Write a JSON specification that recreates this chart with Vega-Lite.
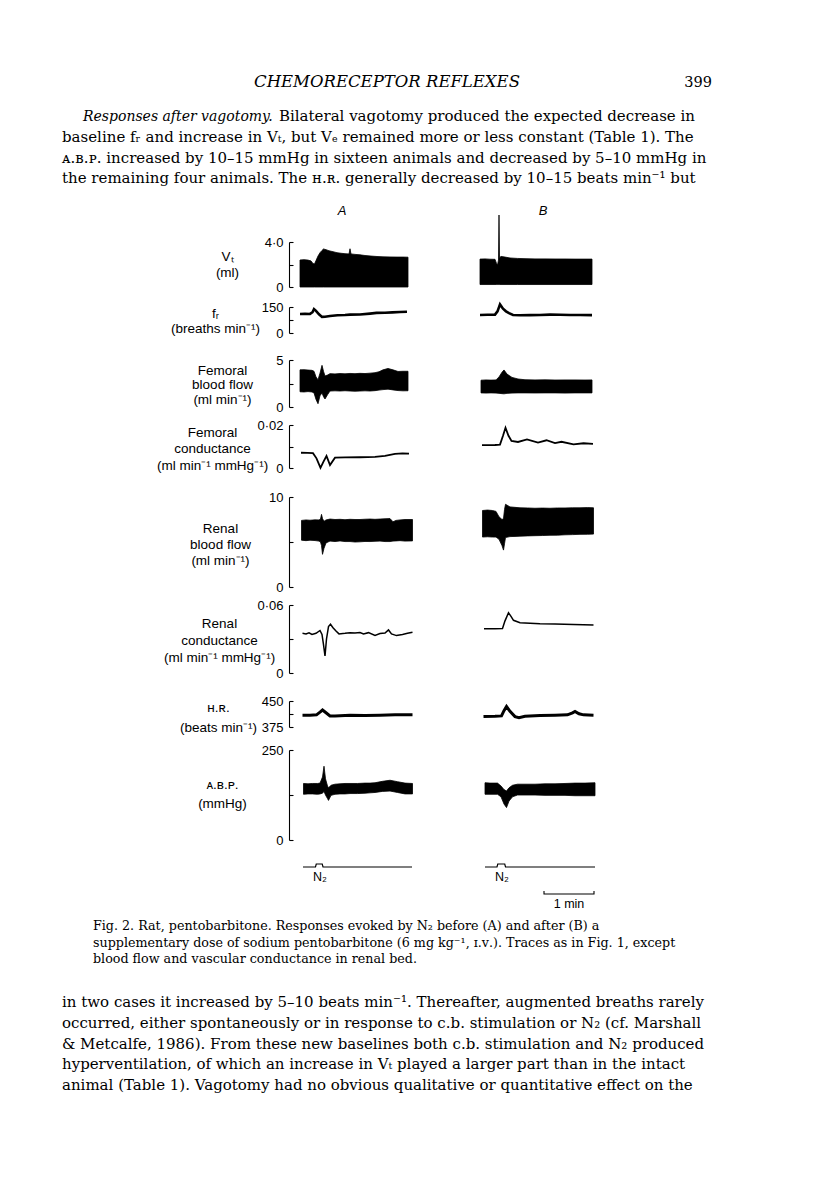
{
  "$schema": "https://vega.github.io/schema/vega-lite/v6.json",
  "background": "white",
  "padding": {"left": 62, "top": 74, "right": 0, "bottom": 0},
  "bounds": "flush",
  "spacing": 0,
  "config": {
    "view": {"stroke": null},
    "font": "Liberation Sans",
    "axis": {
      "offset": -227,
      "grid": false,
      "domainColor": "black",
      "domainWidth": 1.1,
      "tickColor": "black",
      "tickWidth": 1.1,
      "tickSize": -4,
      "labelPadding": 10,
      "labelFont": "Liberation Sans",
      "labelFontSize": 13,
      "labelColor": "black",
      "labelFlush": false,
      "labelOverlap": false,
      "labelBaseline": "middle",
      "titleFont": "Liberation Sans",
      "titleFontSize": 13.5,
      "titleFontWeight": "normal",
      "titleColor": "black",
      "titleAngle": 0,
      "titleAlign": "center",
      "titleBaseline": "middle"
    }
  },
  "datasets": {
    "head": [
      {"role": "head", "text": "CHEMORECEPTOR REFLEXES"},
      {"role": "page", "text": "399"}
    ],
    "para1": [
      {"line": 1, "seg": "lead", "text": "Responses after vagotomy."},
      {"line": 1, "seg": "rest", "text": "Bilateral vagotomy produced the expected decrease in"},
      {"line": 2, "seg": "body", "text": "baseline fᵣ and increase in Vₜ, but Vₑ remained more or less constant (Table 1). The"},
      {"line": 3, "seg": "body", "text": "ᴀ.ʙ.ᴘ. increased by 10–15 mmHg in sixteen animals and decreased by 5–10 mmHg in"},
      {"line": 4, "seg": "body", "text": "the remaining four animals. The ʜ.ʀ. generally decreased by 10–15 beats min⁻¹ but"}
    ],
    "caption": [
      {"line": 1, "text": "Fig. 2. Rat, pentobarbitone. Responses evoked by N₂ before (A) and after (B) a"},
      {"line": 2, "text": "supplementary dose of sodium pentobarbitone (6 mg kg⁻¹, ɪ.ᴠ.). Traces as in Fig. 1, except"},
      {"line": 3, "text": "blood flow and vascular conductance in renal bed."}
    ],
    "para2": [
      {"line": 1, "text": "in two cases it increased by 5–10 beats min⁻¹. Thereafter, augmented breaths rarely"},
      {"line": 2, "text": "occurred, either spontaneously or in response to c.b. stimulation or N₂ (cf. Marshall"},
      {"line": 3, "text": "& Metcalfe, 1986). From these new baselines both c.b. stimulation and N₂ produced"},
      {"line": 4, "text": "hyperventilation, of which an increase in Vₜ played a larger part than in the intact"},
      {"line": 5, "text": "animal (Table 1). Vagotomy had no obvious qualitative or quantitative effect on the"}
    ],
    "panels": [
      {"panel": "A", "t": 0.84},
      {"panel": "B", "t": 4.86}
    ],
    "vt": [
      {"panel": "A", "t": 0.00, "hi": 2.40, "lo": 0},
      {"panel": "A", "t": 0.08, "hi": 2.43, "lo": 0},
      {"panel": "A", "t": 0.16, "hi": 2.39, "lo": 0},
      {"panel": "A", "t": 0.22, "hi": 2.32, "lo": 0},
      {"panel": "A", "t": 0.26, "hi": 2.08, "lo": 0},
      {"panel": "A", "t": 0.29, "hi": 2.05, "lo": 0},
      {"panel": "A", "t": 0.32, "hi": 2.35, "lo": 0},
      {"panel": "A", "t": 0.36, "hi": 2.75, "lo": 0},
      {"panel": "A", "t": 0.40, "hi": 3.05, "lo": 0},
      {"panel": "A", "t": 0.44, "hi": 3.25, "lo": 0},
      {"panel": "A", "t": 0.47, "hi": 3.38, "lo": 0},
      {"panel": "A", "t": 0.52, "hi": 3.32, "lo": 0},
      {"panel": "A", "t": 0.58, "hi": 3.22, "lo": 0},
      {"panel": "A", "t": 0.66, "hi": 3.14, "lo": 0},
      {"panel": "A", "t": 0.74, "hi": 3.05, "lo": 0},
      {"panel": "A", "t": 0.82, "hi": 3.00, "lo": 0},
      {"panel": "A", "t": 0.90, "hi": 2.96, "lo": 0},
      {"panel": "A", "t": 0.98, "hi": 2.94, "lo": 0},
      {"panel": "A", "t": 1.00, "hi": 3.40, "lo": 0},
      {"panel": "A", "t": 1.02, "hi": 2.94, "lo": 0},
      {"panel": "A", "t": 1.10, "hi": 2.90, "lo": 0},
      {"panel": "A", "t": 1.20, "hi": 2.86, "lo": 0},
      {"panel": "A", "t": 1.30, "hi": 2.80, "lo": 0},
      {"panel": "A", "t": 1.42, "hi": 2.75, "lo": 0},
      {"panel": "A", "t": 1.54, "hi": 2.71, "lo": 0},
      {"panel": "A", "t": 1.66, "hi": 2.68, "lo": 0},
      {"panel": "A", "t": 1.80, "hi": 2.67, "lo": 0},
      {"panel": "A", "t": 1.94, "hi": 2.66, "lo": 0},
      {"panel": "A", "t": 2.06, "hi": 2.66, "lo": 0},
      {"panel": "A", "t": 2.16, "hi": 2.65, "lo": 0},
      {"panel": "B", "t": 3.60, "hi": 2.48, "lo": 0.22},
      {"panel": "B", "t": 3.70, "hi": 2.50, "lo": 0.22},
      {"panel": "B", "t": 3.80, "hi": 2.47, "lo": 0.22},
      {"panel": "B", "t": 3.90, "hi": 2.46, "lo": 0.22},
      {"panel": "B", "t": 3.93, "hi": 2.10, "lo": 0.22},
      {"panel": "B", "t": 3.95, "hi": 1.96, "lo": 0.22},
      {"panel": "B", "t": 3.97, "hi": 2.40, "lo": 0.22},
      {"panel": "B", "t": 3.98, "hi": 6.40, "lo": 0.22},
      {"panel": "B", "t": 3.99, "hi": 2.60, "lo": 0.22},
      {"panel": "B", "t": 4.02, "hi": 2.72, "lo": 0.22},
      {"panel": "B", "t": 4.10, "hi": 2.66, "lo": 0.22},
      {"panel": "B", "t": 4.20, "hi": 2.58, "lo": 0.22},
      {"panel": "B", "t": 4.35, "hi": 2.54, "lo": 0.22},
      {"panel": "B", "t": 4.50, "hi": 2.52, "lo": 0.22},
      {"panel": "B", "t": 4.70, "hi": 2.50, "lo": 0.22},
      {"panel": "B", "t": 4.90, "hi": 2.50, "lo": 0.22},
      {"panel": "B", "t": 5.10, "hi": 2.49, "lo": 0.22},
      {"panel": "B", "t": 5.30, "hi": 2.49, "lo": 0.22},
      {"panel": "B", "t": 5.50, "hi": 2.48, "lo": 0.22},
      {"panel": "B", "t": 5.70, "hi": 2.48, "lo": 0.22},
      {"panel": "B", "t": 5.84, "hi": 2.48, "lo": 0.22}
    ],
    "fr": [
      {"panel": "A", "t": 0.00, "v": 110},
      {"panel": "A", "t": 0.10, "v": 111},
      {"panel": "A", "t": 0.20, "v": 110},
      {"panel": "A", "t": 0.25, "v": 120},
      {"panel": "A", "t": 0.28, "v": 138},
      {"panel": "A", "t": 0.32, "v": 128},
      {"panel": "A", "t": 0.38, "v": 108},
      {"panel": "A", "t": 0.44, "v": 93},
      {"panel": "A", "t": 0.50, "v": 94},
      {"panel": "A", "t": 0.60, "v": 98},
      {"panel": "A", "t": 0.75, "v": 102},
      {"panel": "A", "t": 0.90, "v": 104},
      {"panel": "A", "t": 1.00, "v": 106},
      {"panel": "A", "t": 1.20, "v": 107},
      {"panel": "A", "t": 1.40, "v": 112},
      {"panel": "A", "t": 1.53, "v": 116},
      {"panel": "A", "t": 1.70, "v": 117},
      {"panel": "A", "t": 1.85, "v": 119},
      {"panel": "A", "t": 2.00, "v": 121},
      {"panel": "A", "t": 2.14, "v": 123},
      {"panel": "B", "t": 3.60, "v": 104},
      {"panel": "B", "t": 3.75, "v": 105},
      {"panel": "B", "t": 3.90, "v": 106},
      {"panel": "B", "t": 3.95, "v": 125},
      {"panel": "B", "t": 4.00, "v": 165},
      {"panel": "B", "t": 4.06, "v": 140},
      {"panel": "B", "t": 4.12, "v": 125},
      {"panel": "B", "t": 4.18, "v": 115},
      {"panel": "B", "t": 4.26, "v": 104},
      {"panel": "B", "t": 4.40, "v": 102},
      {"panel": "B", "t": 4.60, "v": 103},
      {"panel": "B", "t": 4.80, "v": 104},
      {"panel": "B", "t": 5.00, "v": 106},
      {"panel": "B", "t": 5.20, "v": 105},
      {"panel": "B", "t": 5.40, "v": 104},
      {"panel": "B", "t": 5.60, "v": 104},
      {"panel": "B", "t": 5.84, "v": 103}
    ],
    "fembf": [
      {"panel": "A", "t": 0.00, "hi": 3.95, "lo": 1.62},
      {"panel": "A", "t": 0.08, "hi": 3.97, "lo": 1.60},
      {"panel": "A", "t": 0.16, "hi": 3.93, "lo": 1.64},
      {"panel": "A", "t": 0.24, "hi": 3.90, "lo": 1.60},
      {"panel": "A", "t": 0.28, "hi": 3.80, "lo": 1.50},
      {"panel": "A", "t": 0.32, "hi": 3.20, "lo": 0.80},
      {"panel": "A", "t": 0.36, "hi": 2.90, "lo": 0.35},
      {"panel": "A", "t": 0.40, "hi": 3.60, "lo": 1.20},
      {"panel": "A", "t": 0.44, "hi": 4.43, "lo": 1.50},
      {"panel": "A", "t": 0.47, "hi": 3.80, "lo": 1.10},
      {"panel": "A", "t": 0.50, "hi": 3.30, "lo": 0.85},
      {"panel": "A", "t": 0.55, "hi": 3.40, "lo": 1.30},
      {"panel": "A", "t": 0.60, "hi": 3.55, "lo": 1.70},
      {"panel": "A", "t": 0.70, "hi": 3.52, "lo": 1.72},
      {"panel": "A", "t": 0.80, "hi": 3.56, "lo": 1.70},
      {"panel": "A", "t": 0.90, "hi": 3.53, "lo": 1.73},
      {"panel": "A", "t": 1.00, "hi": 3.57, "lo": 1.70},
      {"panel": "A", "t": 1.10, "hi": 3.55, "lo": 1.68},
      {"panel": "A", "t": 1.20, "hi": 3.58, "lo": 1.70},
      {"panel": "A", "t": 1.30, "hi": 3.56, "lo": 1.72},
      {"panel": "A", "t": 1.40, "hi": 3.60, "lo": 1.70},
      {"panel": "A", "t": 1.50, "hi": 3.65, "lo": 1.74},
      {"panel": "A", "t": 1.58, "hi": 3.75, "lo": 1.80},
      {"panel": "A", "t": 1.66, "hi": 3.95, "lo": 1.85},
      {"panel": "A", "t": 1.76, "hi": 4.10, "lo": 1.90},
      {"panel": "A", "t": 1.86, "hi": 3.95, "lo": 1.82},
      {"panel": "A", "t": 1.96, "hi": 3.78, "lo": 1.75},
      {"panel": "A", "t": 2.06, "hi": 3.80, "lo": 1.72},
      {"panel": "A", "t": 2.16, "hi": 3.80, "lo": 1.73},
      {"panel": "B", "t": 3.62, "hi": 2.85, "lo": 1.50},
      {"panel": "B", "t": 3.72, "hi": 2.88, "lo": 1.48},
      {"panel": "B", "t": 3.82, "hi": 2.86, "lo": 1.50},
      {"panel": "B", "t": 3.92, "hi": 2.88, "lo": 1.48},
      {"panel": "B", "t": 3.98, "hi": 3.20, "lo": 1.45},
      {"panel": "B", "t": 4.04, "hi": 3.70, "lo": 1.42},
      {"panel": "B", "t": 4.08, "hi": 3.94, "lo": 1.40},
      {"panel": "B", "t": 4.14, "hi": 3.50, "lo": 1.45},
      {"panel": "B", "t": 4.24, "hi": 3.15, "lo": 1.48},
      {"panel": "B", "t": 4.36, "hi": 2.98, "lo": 1.50},
      {"panel": "B", "t": 4.50, "hi": 2.90, "lo": 1.50},
      {"panel": "B", "t": 4.70, "hi": 2.88, "lo": 1.49},
      {"panel": "B", "t": 4.90, "hi": 2.89, "lo": 1.50},
      {"panel": "B", "t": 5.10, "hi": 2.87, "lo": 1.50},
      {"panel": "B", "t": 5.30, "hi": 2.88, "lo": 1.48},
      {"panel": "B", "t": 5.50, "hi": 2.88, "lo": 1.50},
      {"panel": "B", "t": 5.70, "hi": 2.87, "lo": 1.50},
      {"panel": "B", "t": 5.84, "hi": 2.88, "lo": 1.50}
    ],
    "femcond": [
      {"panel": "A", "t": 0.02, "v": 0.0071},
      {"panel": "A", "t": 0.15, "v": 0.0070},
      {"panel": "A", "t": 0.26, "v": 0.0069},
      {"panel": "A", "t": 0.33, "v": 0.0045},
      {"panel": "A", "t": 0.41, "v": 0.0001},
      {"panel": "A", "t": 0.47, "v": 0.0030},
      {"panel": "A", "t": 0.53, "v": 0.0056},
      {"panel": "A", "t": 0.60, "v": 0.0014},
      {"panel": "A", "t": 0.70, "v": 0.0048},
      {"panel": "A", "t": 0.90, "v": 0.0049},
      {"panel": "A", "t": 1.20, "v": 0.0050},
      {"panel": "A", "t": 1.50, "v": 0.0052},
      {"panel": "A", "t": 1.70, "v": 0.0056},
      {"panel": "A", "t": 1.90, "v": 0.0066},
      {"panel": "A", "t": 2.05, "v": 0.0068},
      {"panel": "A", "t": 2.18, "v": 0.0067},
      {"panel": "B", "t": 3.64, "v": 0.0106},
      {"panel": "B", "t": 3.90, "v": 0.0107},
      {"panel": "B", "t": 4.00, "v": 0.0109},
      {"panel": "B", "t": 4.06, "v": 0.0150},
      {"panel": "B", "t": 4.11, "v": 0.0187},
      {"panel": "B", "t": 4.17, "v": 0.0150},
      {"panel": "B", "t": 4.23, "v": 0.0126},
      {"panel": "B", "t": 4.36, "v": 0.0121},
      {"panel": "B", "t": 4.54, "v": 0.0133},
      {"panel": "B", "t": 4.76, "v": 0.0118},
      {"panel": "B", "t": 4.93, "v": 0.0129},
      {"panel": "B", "t": 5.10, "v": 0.0116},
      {"panel": "B", "t": 5.23, "v": 0.0122},
      {"panel": "B", "t": 5.47, "v": 0.0110},
      {"panel": "B", "t": 5.67, "v": 0.0115},
      {"panel": "B", "t": 5.86, "v": 0.0112}
    ],
    "renbf": [
      {"panel": "A", "t": 0.03, "hi": 7.40, "lo": 5.20},
      {"panel": "A", "t": 0.12, "hi": 7.45, "lo": 5.15},
      {"panel": "A", "t": 0.20, "hi": 7.42, "lo": 5.20},
      {"panel": "A", "t": 0.30, "hi": 7.46, "lo": 5.16},
      {"panel": "A", "t": 0.38, "hi": 7.45, "lo": 5.10},
      {"panel": "A", "t": 0.41, "hi": 7.55, "lo": 5.00},
      {"panel": "A", "t": 0.43, "hi": 8.07, "lo": 4.60},
      {"panel": "A", "t": 0.45, "hi": 7.60, "lo": 3.63},
      {"panel": "A", "t": 0.48, "hi": 7.30, "lo": 4.30},
      {"panel": "A", "t": 0.52, "hi": 7.45, "lo": 4.90},
      {"panel": "A", "t": 0.60, "hi": 7.55, "lo": 5.10},
      {"panel": "A", "t": 0.70, "hi": 7.50, "lo": 5.05},
      {"panel": "A", "t": 0.80, "hi": 7.52, "lo": 5.12},
      {"panel": "A", "t": 0.90, "hi": 7.48, "lo": 5.05},
      {"panel": "A", "t": 1.00, "hi": 7.52, "lo": 5.05},
      {"panel": "A", "t": 1.10, "hi": 7.50, "lo": 5.00},
      {"panel": "A", "t": 1.20, "hi": 7.50, "lo": 5.02},
      {"panel": "A", "t": 1.30, "hi": 7.53, "lo": 5.06},
      {"panel": "A", "t": 1.40, "hi": 7.55, "lo": 5.05},
      {"panel": "A", "t": 1.50, "hi": 7.52, "lo": 5.08},
      {"panel": "A", "t": 1.60, "hi": 7.55, "lo": 5.10},
      {"panel": "A", "t": 1.70, "hi": 7.58, "lo": 5.05},
      {"panel": "A", "t": 1.80, "hi": 7.60, "lo": 5.05},
      {"panel": "A", "t": 1.86, "hi": 7.25, "lo": 5.10},
      {"panel": "A", "t": 1.92, "hi": 7.40, "lo": 5.12},
      {"panel": "A", "t": 2.00, "hi": 7.45, "lo": 5.15},
      {"panel": "A", "t": 2.10, "hi": 7.50, "lo": 5.10},
      {"panel": "A", "t": 2.25, "hi": 7.50, "lo": 5.12},
      {"panel": "B", "t": 3.65, "hi": 8.50, "lo": 5.55},
      {"panel": "B", "t": 3.75, "hi": 8.55, "lo": 5.58},
      {"panel": "B", "t": 3.85, "hi": 8.50, "lo": 5.55},
      {"panel": "B", "t": 3.92, "hi": 8.40, "lo": 5.55},
      {"panel": "B", "t": 3.98, "hi": 7.80, "lo": 5.30},
      {"panel": "B", "t": 4.04, "hi": 7.50, "lo": 4.60},
      {"panel": "B", "t": 4.07, "hi": 7.60, "lo": 4.10},
      {"panel": "B", "t": 4.09, "hi": 8.60, "lo": 4.80},
      {"panel": "B", "t": 4.11, "hi": 9.19, "lo": 5.50},
      {"panel": "B", "t": 4.20, "hi": 8.90, "lo": 5.60},
      {"panel": "B", "t": 4.30, "hi": 8.85, "lo": 5.62},
      {"panel": "B", "t": 4.40, "hi": 8.80, "lo": 5.65},
      {"panel": "B", "t": 4.55, "hi": 8.78, "lo": 5.68},
      {"panel": "B", "t": 4.70, "hi": 8.75, "lo": 5.70},
      {"panel": "B", "t": 4.85, "hi": 8.77, "lo": 5.72},
      {"panel": "B", "t": 5.00, "hi": 8.75, "lo": 5.75},
      {"panel": "B", "t": 5.15, "hi": 8.78, "lo": 5.76},
      {"panel": "B", "t": 5.30, "hi": 8.78, "lo": 5.80},
      {"panel": "B", "t": 5.45, "hi": 8.80, "lo": 5.82},
      {"panel": "B", "t": 5.60, "hi": 8.80, "lo": 5.85},
      {"panel": "B", "t": 5.75, "hi": 8.82, "lo": 5.86},
      {"panel": "B", "t": 5.87, "hi": 8.80, "lo": 5.88}
    ],
    "rencond": [
      {"panel": "A", "t": 0.05, "v": 0.0350},
      {"panel": "A", "t": 0.12, "v": 0.0345},
      {"panel": "A", "t": 0.18, "v": 0.0355},
      {"panel": "A", "t": 0.24, "v": 0.0340},
      {"panel": "A", "t": 0.32, "v": 0.0350},
      {"panel": "A", "t": 0.40, "v": 0.0375},
      {"panel": "A", "t": 0.44, "v": 0.0340},
      {"panel": "A", "t": 0.47, "v": 0.0250},
      {"panel": "A", "t": 0.50, "v": 0.0150},
      {"panel": "A", "t": 0.53, "v": 0.0300},
      {"panel": "A", "t": 0.57, "v": 0.0410},
      {"panel": "A", "t": 0.61, "v": 0.0430},
      {"panel": "A", "t": 0.66, "v": 0.0400},
      {"panel": "A", "t": 0.72, "v": 0.0370},
      {"panel": "A", "t": 0.78, "v": 0.0345},
      {"panel": "A", "t": 0.90, "v": 0.0350},
      {"panel": "A", "t": 1.00, "v": 0.0356},
      {"panel": "A", "t": 1.10, "v": 0.0352},
      {"panel": "A", "t": 1.20, "v": 0.0357},
      {"panel": "A", "t": 1.27, "v": 0.0345},
      {"panel": "A", "t": 1.37, "v": 0.0356},
      {"panel": "A", "t": 1.50, "v": 0.0332},
      {"panel": "A", "t": 1.60, "v": 0.0348},
      {"panel": "A", "t": 1.70, "v": 0.0352},
      {"panel": "A", "t": 1.77, "v": 0.0380},
      {"panel": "A", "t": 1.83, "v": 0.0345},
      {"panel": "A", "t": 1.93, "v": 0.0330},
      {"panel": "A", "t": 2.05, "v": 0.0340},
      {"panel": "A", "t": 2.15, "v": 0.0350},
      {"panel": "A", "t": 2.25, "v": 0.0360},
      {"panel": "B", "t": 3.68, "v": 0.0391},
      {"panel": "B", "t": 3.90, "v": 0.0390},
      {"panel": "B", "t": 4.05, "v": 0.0392},
      {"panel": "B", "t": 4.10, "v": 0.0460},
      {"panel": "B", "t": 4.17, "v": 0.0532},
      {"panel": "B", "t": 4.22, "v": 0.0500},
      {"panel": "B", "t": 4.27, "v": 0.0465},
      {"panel": "B", "t": 4.40, "v": 0.0444},
      {"panel": "B", "t": 4.60, "v": 0.0440},
      {"panel": "B", "t": 4.80, "v": 0.0435},
      {"panel": "B", "t": 5.10, "v": 0.0432},
      {"panel": "B", "t": 5.47, "v": 0.0428},
      {"panel": "B", "t": 5.87, "v": 0.0424}
    ],
    "hr": [
      {"panel": "A", "t": 0.05, "v": 409},
      {"panel": "A", "t": 0.20, "v": 409},
      {"panel": "A", "t": 0.33, "v": 410},
      {"panel": "A", "t": 0.40, "v": 418},
      {"panel": "A", "t": 0.45, "v": 424},
      {"panel": "A", "t": 0.52, "v": 416},
      {"panel": "A", "t": 0.60, "v": 407},
      {"panel": "A", "t": 0.70, "v": 407},
      {"panel": "A", "t": 1.00, "v": 409},
      {"panel": "A", "t": 1.30, "v": 408},
      {"panel": "A", "t": 1.60, "v": 409},
      {"panel": "A", "t": 1.90, "v": 410},
      {"panel": "A", "t": 2.25, "v": 410},
      {"panel": "B", "t": 3.67, "v": 405},
      {"panel": "B", "t": 3.90, "v": 406},
      {"panel": "B", "t": 4.03, "v": 407},
      {"panel": "B", "t": 4.08, "v": 422},
      {"panel": "B", "t": 4.13, "v": 434},
      {"panel": "B", "t": 4.20, "v": 420},
      {"panel": "B", "t": 4.30, "v": 405},
      {"panel": "B", "t": 4.38, "v": 402},
      {"panel": "B", "t": 4.50, "v": 406},
      {"panel": "B", "t": 4.80, "v": 408},
      {"panel": "B", "t": 5.10, "v": 409},
      {"panel": "B", "t": 5.35, "v": 410},
      {"panel": "B", "t": 5.45, "v": 416},
      {"panel": "B", "t": 5.50, "v": 420},
      {"panel": "B", "t": 5.58, "v": 413},
      {"panel": "B", "t": 5.67, "v": 410},
      {"panel": "B", "t": 5.87, "v": 409}
    ],
    "abp": [
      {"panel": "A", "t": 0.07, "hi": 157, "lo": 127},
      {"panel": "A", "t": 0.16, "hi": 156, "lo": 128},
      {"panel": "A", "t": 0.25, "hi": 157, "lo": 128},
      {"panel": "A", "t": 0.35, "hi": 157, "lo": 127},
      {"panel": "A", "t": 0.40, "hi": 158, "lo": 128},
      {"panel": "A", "t": 0.45, "hi": 175, "lo": 130},
      {"panel": "A", "t": 0.48, "hi": 205, "lo": 135},
      {"panel": "A", "t": 0.51, "hi": 170, "lo": 125},
      {"panel": "A", "t": 0.55, "hi": 150, "lo": 115},
      {"panel": "A", "t": 0.57, "hi": 145, "lo": 110},
      {"panel": "A", "t": 0.62, "hi": 152, "lo": 124},
      {"panel": "A", "t": 0.70, "hi": 155, "lo": 127},
      {"panel": "A", "t": 0.80, "hi": 156, "lo": 128},
      {"panel": "A", "t": 0.90, "hi": 157, "lo": 128},
      {"panel": "A", "t": 1.00, "hi": 157, "lo": 129},
      {"panel": "A", "t": 1.15, "hi": 157, "lo": 129},
      {"panel": "A", "t": 1.30, "hi": 158, "lo": 130},
      {"panel": "A", "t": 1.40, "hi": 158, "lo": 131},
      {"panel": "A", "t": 1.50, "hi": 159, "lo": 132},
      {"panel": "A", "t": 1.65, "hi": 163, "lo": 135},
      {"panel": "A", "t": 1.80, "hi": 166, "lo": 136},
      {"panel": "A", "t": 1.95, "hi": 162, "lo": 132},
      {"panel": "A", "t": 2.10, "hi": 158, "lo": 128},
      {"panel": "A", "t": 2.25, "hi": 157, "lo": 128},
      {"panel": "B", "t": 3.70, "hi": 159, "lo": 127},
      {"panel": "B", "t": 3.80, "hi": 158, "lo": 127},
      {"panel": "B", "t": 3.95, "hi": 158, "lo": 127},
      {"panel": "B", "t": 4.02, "hi": 150, "lo": 120},
      {"panel": "B", "t": 4.08, "hi": 140, "lo": 100},
      {"panel": "B", "t": 4.13, "hi": 136, "lo": 90},
      {"panel": "B", "t": 4.18, "hi": 145, "lo": 108},
      {"panel": "B", "t": 4.25, "hi": 152, "lo": 120},
      {"panel": "B", "t": 4.35, "hi": 155, "lo": 125},
      {"panel": "B", "t": 4.50, "hi": 155, "lo": 125},
      {"panel": "B", "t": 4.70, "hi": 155, "lo": 125},
      {"panel": "B", "t": 4.90, "hi": 156, "lo": 124},
      {"panel": "B", "t": 5.10, "hi": 156, "lo": 124},
      {"panel": "B", "t": 5.30, "hi": 157, "lo": 124},
      {"panel": "B", "t": 5.50, "hi": 158, "lo": 123},
      {"panel": "B", "t": 5.70, "hi": 158, "lo": 123},
      {"panel": "B", "t": 5.90, "hi": 159, "lo": 123}
    ],
    "n2": [
      {"panel": "A", "t": 0.06, "v": 0},
      {"panel": "A", "t": 0.31, "v": 0},
      {"panel": "A", "t": 0.325, "v": 1},
      {"panel": "A", "t": 0.445, "v": 1},
      {"panel": "A", "t": 0.46, "v": 0},
      {"panel": "A", "t": 2.24, "v": 0},
      {"panel": "B", "t": 3.70, "v": 0},
      {"panel": "B", "t": 3.94, "v": 0},
      {"panel": "B", "t": 3.955, "v": 1},
      {"panel": "B", "t": 4.095, "v": 1},
      {"panel": "B", "t": 4.11, "v": 0},
      {"panel": "B", "t": 5.90, "v": 0}
    ],
    "n2lab": [
      {"panel": "A", "t": 0.40, "label": "N₂"},
      {"panel": "B", "t": 4.04, "label": "N₂"}
    ],
    "bar": [
      {"k": 1, "t": 4.88, "v": 1},
      {"k": 2, "t": 4.88, "v": 0},
      {"k": 3, "t": 5.88, "v": 0},
      {"k": 4, "t": 5.88, "v": 1}
    ],
    "barlab": [
      {"t": 5.38, "label": "1 min"}
    ],
    "none": []
  },
  "vconcat": [
    {
      "width": 650,
      "height": 26,
      "data": {"name": "head"},
      "layer": [
        {
          "transform": [{"filter": "datum.role == 'head'"}],
          "mark": {"type": "text", "font": "DejaVu Serif", "fontStyle": "italic", "fontSize": 16.5, "baseline": "alphabetic", "align": "center", "color": "black"},
          "encoding": {"text": {"field": "text"}}
        },
        {
          "transform": [{"filter": "datum.role == 'page'"}],
          "mark": {"type": "text", "font": "DejaVu Serif", "fontSize": 14.5, "baseline": "alphabetic", "align": "right", "x": "width", "color": "black"},
          "encoding": {"text": {"field": "text"}}
        }
      ]
    },
    {"width": 650, "height": 10.67, "data": {"name": "none"}, "mark": "point"},
    {
      "width": 650,
      "height": 82.67,
      "data": {"name": "para1"},
      "encoding": {
        "y": {"field": "line", "type": "ordinal", "axis": null, "scale": {"domain": [1, 2, 3, 4]}},
        "text": {"field": "text"}
      },
      "layer": [
        {
          "transform": [{"filter": "datum.seg == 'body'"}],
          "mark": {"type": "text", "font": "DejaVu Serif", "fontSize": 15, "align": "left", "baseline": "alphabetic", "x": 0, "color": "black"}
        },
        {
          "transform": [{"filter": "datum.seg == 'lead'"}],
          "mark": {"type": "text", "font": "DejaVu Serif", "fontStyle": "italic", "fontSize": 14, "align": "left", "baseline": "alphabetic", "x": 0, "dx": 21, "color": "black"}
        },
        {
          "transform": [{"filter": "datum.seg == 'rest'"}],
          "mark": {"type": "text", "font": "DejaVu Serif", "fontSize": 15, "align": "left", "baseline": "alphabetic", "x": 0, "dx": 217, "color": "black"}
        }
      ]
    },
    {"width": 650, "height": 11.67, "data": {"name": "none"}, "mark": "point"},
    {
      "width": 650,
      "height": 10,
      "data": {"name": "panels"},
      "mark": {"type": "text", "font": "Liberation Sans", "fontStyle": "italic", "fontSize": 13, "baseline": "middle", "color": "black"},
      "encoding": {
        "x": {"field": "t", "type": "quantitative", "scale": {"domain": [-4.76, 8.24], "nice": false, "zero": false}, "axis": null},
        "text": {"field": "panel"}
      }
    },
    {"width": 650, "height": 26, "data": {"name": "none"}, "mark": "point"},
    {
      "width": 650,
      "height": 45,
      "data": {"name": "vt"},
      "mark": {"type": "area", "color": "black", "stroke": "black", "strokeWidth": 0.8},
      "encoding": {
        "x": {"field": "t", "type": "quantitative", "scale": {"domain": [-4.76, 8.24], "nice": false, "zero": false}, "axis": null},
        "y": {"field": "hi", "type": "quantitative", "scale": {"domain": [0, 4], "nice": false, "zero": false},
          "axis": {"values": [0, 2, 4], "labelExpr": "datum.value > 3 ? '4·0' : datum.value < 1 ? '0' : ''", "title": ["Vₜ", "(ml)"], "titleX": -62, "titleY": 14, "titleLineHeight": 16}},
        "y2": {"field": "lo"},
        "detail": {"field": "panel"}
      }
    },
    {"width": 650, "height": 20, "data": {"name": "none"}, "mark": "point"},
    {
      "width": 650,
      "height": 26,
      "data": {"name": "fr"},
      "mark": {"type": "line", "color": "black", "strokeWidth": 2.6},
      "encoding": {
        "x": {"field": "t", "type": "quantitative", "scale": {"domain": [-4.76, 8.24], "nice": false, "zero": false}, "axis": null},
        "y": {"field": "v", "type": "quantitative", "scale": {"domain": [0, 150], "nice": false, "zero": false},
          "axis": {"values": [0, 75, 150], "labelExpr": "datum.value > 100 ? '150' : datum.value < 10 ? '0' : ''", "title": ["fᵣ", "(breaths min⁻¹)"], "titleX": -74, "titleY": 6, "titleLineHeight": 15}},
        "detail": {"field": "panel"}
      }
    },
    {"width": 650, "height": 27, "data": {"name": "none"}, "mark": "point"},
    {
      "width": 650,
      "height": 47,
      "data": {"name": "fembf"},
      "mark": {"type": "area", "color": "black", "stroke": "black", "strokeWidth": 0.8},
      "encoding": {
        "x": {"field": "t", "type": "quantitative", "scale": {"domain": [-4.76, 8.24], "nice": false, "zero": false}, "axis": null},
        "y": {"field": "hi", "type": "quantitative", "scale": {"domain": [0, 5], "nice": false, "zero": false},
          "axis": {"values": [0, 2.5, 5], "labelExpr": "datum.value > 4 ? '5' : datum.value < 1 ? '0' : ''", "title": ["Femoral", "blood flow", "(ml min⁻¹)"], "titleX": -67, "titleY": 10, "titleLineHeight": 14.5}},
        "y2": {"field": "lo"},
        "detail": {"field": "panel"}
      }
    },
    {"width": 650, "height": 18, "data": {"name": "none"}, "mark": "point"},
    {
      "width": 650,
      "height": 43,
      "data": {"name": "femcond"},
      "mark": {"type": "line", "color": "black", "strokeWidth": 1.8},
      "encoding": {
        "x": {"field": "t", "type": "quantitative", "scale": {"domain": [-4.76, 8.24], "nice": false, "zero": false}, "axis": null},
        "y": {"field": "v", "type": "quantitative", "scale": {"domain": [0, 0.02], "nice": false, "zero": false},
          "axis": {"values": [0, 0.01, 0.02], "labelExpr": "datum.value > 0.015 ? '0·02' : datum.value < 0.005 ? '0' : ''", "title": ["Femoral", "conductance", "(ml min⁻¹ mmHg⁻¹)"], "titleX": -77, "titleY": 7, "titleLineHeight": 16.5}},
        "detail": {"field": "panel"}
      }
    },
    {"width": 650, "height": 29, "data": {"name": "none"}, "mark": "point"},
    {
      "width": 650,
      "height": 90,
      "data": {"name": "renbf"},
      "mark": {"type": "area", "color": "black", "stroke": "black", "strokeWidth": 0.8},
      "encoding": {
        "x": {"field": "t", "type": "quantitative", "scale": {"domain": [-4.76, 8.24], "nice": false, "zero": false}, "axis": null},
        "y": {"field": "hi", "type": "quantitative", "scale": {"domain": [0, 10], "nice": false, "zero": false},
          "axis": {"values": [0, 5, 10], "labelExpr": "datum.value > 8 ? '10' : datum.value < 1 ? '0' : ''", "title": ["Renal", "blood flow", "(ml min⁻¹)"], "titleX": -69, "titleY": 31, "titleLineHeight": 16}},
        "y2": {"field": "lo"},
        "detail": {"field": "panel"}
      }
    },
    {"width": 650, "height": 18, "data": {"name": "none"}, "mark": "point"},
    {
      "width": 650,
      "height": 68,
      "data": {"name": "rencond"},
      "mark": {"type": "line", "color": "black", "strokeWidth": 1.5},
      "encoding": {
        "x": {"field": "t", "type": "quantitative", "scale": {"domain": [-4.76, 8.24], "nice": false, "zero": false}, "axis": null},
        "y": {"field": "v", "type": "quantitative", "scale": {"domain": [0, 0.06], "nice": false, "zero": false},
          "axis": {"values": [0, 0.03, 0.06], "labelExpr": "datum.value > 0.05 ? '0·06' : datum.value < 0.01 ? '0' : ''", "title": ["Renal", "conductance", "(ml min⁻¹ mmHg⁻¹)"], "titleX": -70, "titleY": 18, "titleLineHeight": 17}},
        "detail": {"field": "panel"}
      }
    },
    {"width": 650, "height": 28, "data": {"name": "none"}, "mark": "point"},
    {
      "width": 650,
      "height": 26,
      "data": {"name": "hr"},
      "mark": {"type": "line", "color": "black", "strokeWidth": 3},
      "encoding": {
        "x": {"field": "t", "type": "quantitative", "scale": {"domain": [-4.76, 8.24], "nice": false, "zero": false}, "axis": null},
        "y": {"field": "v", "type": "quantitative", "scale": {"domain": [375, 450], "nice": false, "zero": false},
          "axis": {"values": [375, 412.5, 450], "labelExpr": "datum.value > 440 ? '450' : datum.value < 380 ? '375' : ''", "title": ["ʜ.ʀ.", "(beats min⁻¹)"], "titleX": -71, "titleY": 6, "titleLineHeight": 20}},
        "detail": {"field": "panel"}
      }
    },
    {"width": 650, "height": 23, "data": {"name": "none"}, "mark": "point"},
    {
      "width": 650,
      "height": 90,
      "data": {"name": "abp"},
      "mark": {"type": "area", "color": "black", "stroke": "black", "strokeWidth": 0.8},
      "encoding": {
        "x": {"field": "t", "type": "quantitative", "scale": {"domain": [-4.76, 8.24], "nice": false, "zero": false}, "axis": null},
        "y": {"field": "hi", "type": "quantitative", "scale": {"domain": [0, 250], "nice": false, "zero": false},
          "axis": {"values": [0, 125, 250], "labelExpr": "datum.value > 200 ? '250' : datum.value < 10 ? '0' : ''", "title": ["ᴀ.ʙ.ᴘ.", "(mmHg)"], "titleX": -67, "titleY": 34, "titleLineHeight": 19}},
        "y2": {"field": "lo"},
        "detail": {"field": "panel"}
      }
    },
    {"width": 650, "height": 24, "data": {"name": "none"}, "mark": "point"},
    {
      "width": 650,
      "height": 3,
      "layer": [
        {
          "data": {"name": "n2"},
          "mark": {"type": "line", "color": "black", "strokeWidth": 1.2},
          "encoding": {
            "x": {"field": "t", "type": "quantitative", "scale": {"domain": [-4.76, 8.24], "nice": false, "zero": false}, "axis": null},
            "y": {"field": "v", "type": "quantitative", "scale": {"domain": [0, 1], "nice": false, "zero": false}, "axis": null},
            "detail": {"field": "panel"}
          }
        },
        {
          "data": {"name": "n2lab"},
          "mark": {"type": "text", "font": "Liberation Sans", "fontSize": 12.5, "baseline": "middle", "dy": 11.5, "color": "black"},
          "encoding": {
            "x": {"field": "t", "type": "quantitative"},
            "text": {"field": "label"}
          }
        }
      ]
    },
    {"width": 650, "height": 24, "data": {"name": "none"}, "mark": "point"},
    {
      "width": 650,
      "height": 3,
      "layer": [
        {
          "data": {"name": "bar"},
          "mark": {"type": "line", "color": "black", "strokeWidth": 1.1},
          "encoding": {
            "x": {"field": "t", "type": "quantitative", "scale": {"domain": [-4.76, 8.24], "nice": false, "zero": false}, "axis": null},
            "y": {"field": "v", "type": "quantitative", "scale": {"domain": [0, 1], "nice": false, "zero": false}, "axis": null},
            "order": {"field": "k"}
          }
        },
        {
          "data": {"name": "barlab"},
          "mark": {"type": "text", "font": "Liberation Sans", "fontSize": 12.5, "baseline": "middle", "dy": 11, "color": "black"},
          "encoding": {
            "x": {"field": "t", "type": "quantitative"},
            "text": {"field": "label"}
          }
        }
      ]
    },
    {"width": 650, "height": 27.75, "data": {"name": "none"}, "mark": "point"},
    {
      "width": 650,
      "height": 49.5,
      "data": {"name": "caption"},
      "mark": {"type": "text", "font": "DejaVu Serif", "fontSize": 12.7, "align": "left", "baseline": "alphabetic", "x": 0, "dx": 31, "color": "black"},
      "encoding": {
        "y": {"field": "line", "type": "ordinal", "axis": null},
        "text": {"field": "text"}
      }
    },
    {"width": 650, "height": 24.45, "data": {"name": "none"}, "mark": "point"},
    {
      "width": 650,
      "height": 103,
      "data": {"name": "para2"},
      "mark": {"type": "text", "font": "DejaVu Serif", "fontSize": 15, "align": "left", "baseline": "alphabetic", "x": 0, "color": "black"},
      "encoding": {
        "y": {"field": "line", "type": "ordinal", "axis": null},
        "text": {"field": "text"}
      }
    }
  ]
}
